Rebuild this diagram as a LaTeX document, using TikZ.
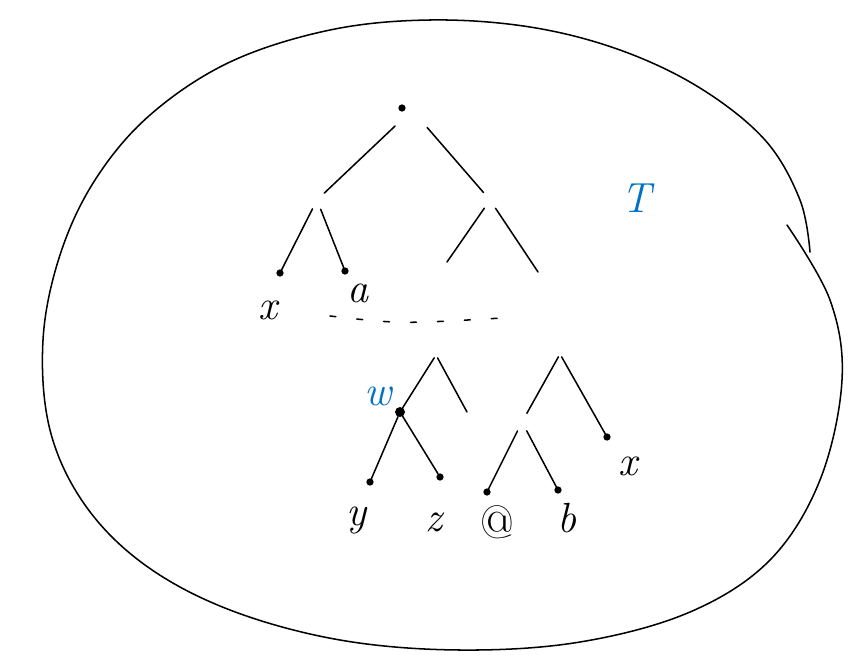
\documentclass[tikz,border=0pt]{standalone}
\usepackage{tikz}
\usetikzlibrary{calc}
\definecolor{inkblue}{RGB}{0,114,198}

\begin{document}
\begin{tikzpicture}[x=0.03cm,y=-0.03cm,
   line width=1.3pt,line cap=round,line join=round,
   leaf/.style={circle,fill,inner sep=2.2pt,outer sep=0pt},
   inner/.style={circle,inner sep=6pt,outer sep=0pt},
   lab/.style={font=\fontsize{36}{40}\selectfont\itshape},
   blab/.style={lab,text=inkblue}]
  \useasboundingbox (0,0) rectangle (867,667);

  % the outer loop
  \draw plot[smooth,tension=0.6] coordinates {
    (810,252) (800,200) (765,140) (700,88) (620,50) (530,27) (430,20)
    (330,30) (230,62) (150,115) (95,180) (60,255) (43,340) (50,430)
    (85,505) (145,565) (230,610) (340,640) (460,650) (580,642)
    (690,612) (770,560) (820,480) (842,380) (830,300) (787,225)};

  % upper tree
  \node[leaf] (root) at (402,108) {};
  \node[inner,inner sep=14pt] (top) at (412,110) {};
  \node[inner] (l) at (317,200) {};
  \node[inner] (r) at (490,200) {};
  \node[leaf] (ll) at (280,273) {};
  \node[leaf] (lr) at (345,271) {};
  \coordinate (rl) at (447,262);
  \coordinate (rr) at (538,272);
  \draw (top) -- (l);
  \draw (top) -- (r);
  \draw (l) -- (ll);
  \draw (l) -- (lr);
  \draw (r) -- (rl);
  \draw (r) -- (rr);

  \node[lab] (x1) at (268,310) {x};
  \node[lab] (a) at (358,293) {a};
  \coordinate (cutL) at (330,316);
  \coordinate (cutR) at (502,318);
  \draw[dash pattern=on 5pt off 18pt] (cutL) .. controls (400,324) .. (cutR);

  % lower trees
  \node[inner,inner sep=2pt] (s) at (436,355) {};
  \node[leaf,inner sep=3pt] (w) at (400,412) {};
  \coordinate (sr) at (467,412);
  \node[leaf] (y) at (370,482) {};
  \node[leaf] (z) at (440,477) {};
  \draw (s) -- (w);
  \draw (s) -- (sr);
  \draw (w) -- (y);
  \draw (w) -- (z);

  \node[inner,inner sep=2pt] (u) at (560,354) {};
  \node[inner] (t) at (522,422) {};
  \node[leaf] (ux) at (607,437) {};
  \node[leaf] (at) at (487,492) {};
  \node[leaf] (b) at (558,490) {};
  \draw (u) -- (t);
  \draw (u) -- (ux);
  \draw (t) -- (at);
  \draw (t) -- (b);

  \node[blab] (wl) at (378,396) {w};
  \node[lab] (yl) at (357,520) {y};
  \node[lab] (zl) at (434,522) {z};
  \node[font=\fontsize{40}{44}\selectfont] (atl) at (497,522) {@};
  \node[lab] (bl) at (567,518) {b};
  \node[lab] (x2) at (628,466) {x};

  \node[blab] (T) at (636,198) {T};
\end{tikzpicture}
\end{document}
